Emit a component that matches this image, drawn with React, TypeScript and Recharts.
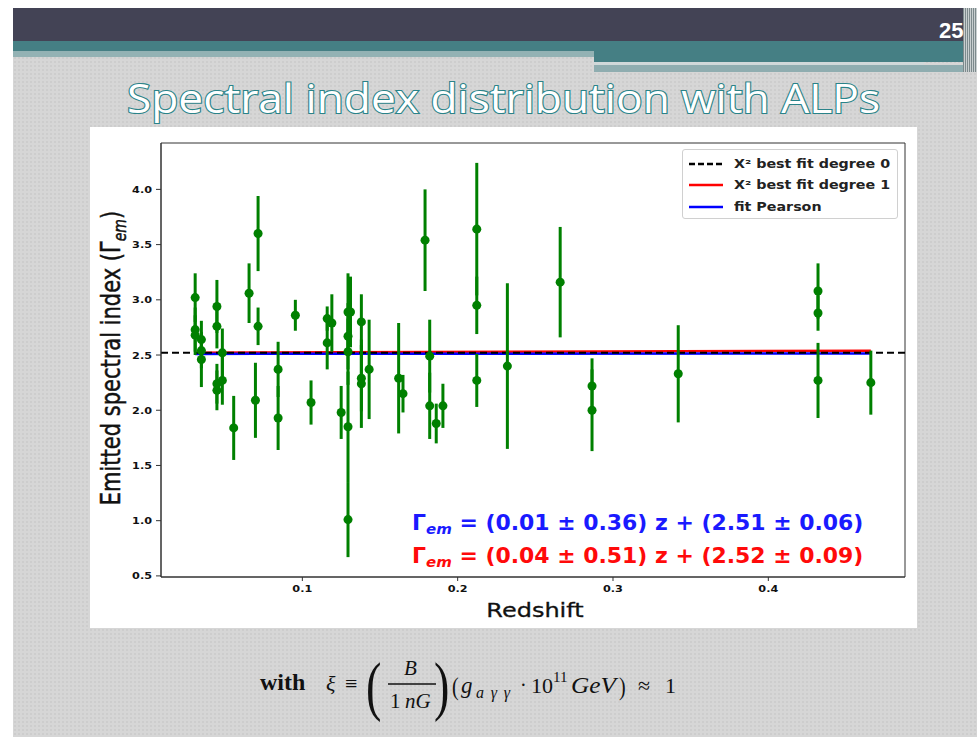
import React from "react";
import {
  ScatterChart,
  Scatter,
  XAxis,
  YAxis,
  ErrorBar,
  ReferenceLine,
  ReferenceArea,
} from "recharts";

// Per-source redshift, emitted spectral index and its 1-sigma error
const redshift = [
  0.031, 0.031, 0.031, 0.035, 0.035, 0.035, 0.045, 0.045, 0.045, 0.045,
  0.0485, 0.0485, 0.0558, 0.0657, 0.0715, 0.0715, 0.0698, 0.0844, 0.0844,
  0.0955, 0.1056, 0.116, 0.116, 0.119, 0.125, 0.1294, 0.1294, 0.1294,
  0.1294, 0.1294, 0.131, 0.138, 0.138, 0.138, 0.143, 0.162, 0.1648, 0.179,
  0.182, 0.182, 0.1862, 0.1905, 0.2123, 0.2123, 0.2123, 0.232, 0.266,
  0.2865, 0.2865, 0.342, 0.432, 0.432, 0.432, 0.466,
];
const gammaEm = [
  3.02, 2.73, 2.68, 2.64, 2.54, 2.46, 2.94, 2.76, 2.24, 2.18, 2.52, 2.27,
  1.84, 3.06, 3.6, 2.76, 2.09, 2.37, 1.93, 2.86, 2.07, 2.83, 2.61, 2.79,
  1.98, 2.89, 2.67, 2.53, 1.85, 1.01, 2.89, 2.8, 2.29, 2.24, 2.37, 2.29,
  2.15, 3.54, 2.49, 2.04, 1.88, 2.04, 3.64, 2.95, 2.27, 2.4, 3.16, 2.22,
  2.0, 2.33, 3.08, 2.88, 2.27, 2.25,
];
const gammaErr = [
  0.22, 0.2, 0.18, 0.17, 0.16, 0.25, 0.24, 0.2, 0.18, 0.18, 0.22, 0.22,
  0.29, 0.27, 0.34, 0.17, 0.34, 0.25, 0.29, 0.14, 0.2, 0.11, 0.24, 0.26,
  0.24, 0.35, 0.3, 0.3, 0.5, 0.34, 0.32, 0.25, 0.3, 0.4, 0.45, 0.5, 0.17,
  0.46, 0.33, 0.3, 0.18, 0.2, 0.6, 0.26, 0.24, 0.75, 0.5, 0.25, 0.37,
  0.44, 0.25, 0.16, 0.34, 0.29,
];

const xTicks = [0.1, 0.2, 0.3, 0.4];
const yTicks = [0.5, 1.0, 1.5, 2.0, 2.5, 3.0, 3.5, 4.0];
const xDomain = [0.009, 0.488];
const yDomain = [0.49, 4.42];

// Fit results: constant chi2 fit, linear chi2 fit, Pearson linear fit
const chi2Degree0 = 2.52;
const chi2Degree1 = { slope: 0.04, intercept: 2.52 };
const pearsonFit = { slope: 0.01, intercept: 2.51 };

const points = redshift.map((z, i) => ({
  z,
  gamma: gammaEm[i],
  err: gammaErr[i],
}));

const zMin = Math.min(...redshift);
const zMax = Math.max(...redshift);
const fitSegment = (f: { slope: number; intercept: number }) => [
  { x: zMin, y: f.slope * zMin + f.intercept },
  { x: zMax, y: f.slope * zMax + f.intercept },
];

const GREEN = "#008000";
const mpl = "'DejaVu Sans', sans-serif";
const serif = "'Liberation Serif', 'DejaVu Serif', serif";

// matplotlib-style tick label, slightly widened
function Tick(props: any) {
  const { x, y, payload, textAnchor, orientation } = props;
  const dy = orientation === "bottom" ? 9 : 3.5;
  const dx = orientation === "left" ? -2 : 0;
  const tx = x + dx;
  return (
    <text
      x={tx}
      y={y + dy}
      textAnchor={textAnchor}
      fontSize={9}
      fontWeight={700}
      fill="#111"
      fontFamily={mpl}
      transform={`translate(${tx} 0) scale(1.25 1) translate(${-tx} 0)`}
    >
      {payload.value.toFixed(1)}
    </text>
  );
}

function Equation({ color, top, text }: { color: string; top: number; text: string }) {
  return (
    <div
      style={{
        position: "absolute",
        left: 412,
        top,
        color,
        fontFamily: mpl,
        fontWeight: 700,
        fontSize: 20.5,
        whiteSpace: "nowrap",
        lineHeight: "24px",
        transform: "scale(1.07, 1)",
        transformOrigin: "0 0",
      }}
    >
      Γ<sub style={{ fontSize: 14, fontStyle: "italic", verticalAlign: -4 }}>em</sub> {text}
    </div>
  );
}

function LegendRow({ top, color, dashed, label }: { top: number; color: string; dashed?: boolean; label: string }) {
  return (
    <div style={{ position: "absolute", left: 6, top, display: "flex", alignItems: "center" }}>
      <svg width={36} height={6}>
        <line
          x1={0}
          y1={3}
          x2={34}
          y2={3}
          stroke={color}
          strokeWidth={2.5}
          strokeDasharray={dashed ? "6 3" : undefined}
        />
      </svg>
      <span
        style={{
          marginLeft: 9,
          fontSize: 11.5,
          fontWeight: 700,
          color: "#222",
          fontFamily: mpl,
          display: "inline-block",
          transform: "scale(1.24, 1)",
          transformOrigin: "0 50%",
          whiteSpace: "nowrap",
        }}
      >
        {label}
      </span>
    </div>
  );
}

export default function App() {
  return (
    <div
      style={{
        position: "absolute",
        left: 0,
        top: 0,
        width: 977,
        height: 737,
        overflow: "hidden",
        background: "#fff",
      }}
    >
      {/* slide background */}
      <div
        style={{
          position: "absolute",
          left: 13,
          top: 8,
          width: 964,
          height: 729,
          background: "#d6d6d6",
          backgroundImage: "radial-gradient(circle, rgba(0,0,0,0.045) 0.9px, transparent 1.1px)",
          backgroundSize: "4px 4px",
        }}
      />
      {/* header bands */}
      <div style={{ position: "absolute", left: 13, top: 8, width: 964, height: 33, background: "#434355" }} />
      <div style={{ position: "absolute", left: 13, top: 41, width: 581, height: 10, background: "#457f84" }} />
      <div style={{ position: "absolute", left: 13, top: 51, width: 581, height: 6, background: "#93b2b4" }} />
      <div style={{ position: "absolute", left: 594, top: 41, width: 383, height: 21, background: "#457f84" }} />
      <div style={{ position: "absolute", left: 594, top: 62, width: 330, height: 3, background: "#d0d8d9" }} />
      <div style={{ position: "absolute", left: 594, top: 65, width: 383, height: 7, background: "#8fadb0" }} />
      <div
        style={{
          position: "absolute",
          left: 963,
          top: 8,
          width: 14,
          height: 64,
          backgroundImage: "repeating-linear-gradient(90deg, #7d8a8c 0 1px, #c9cfd0 1px 2px)",
        }}
      />
      <div
        style={{
          position: "absolute",
          left: 939,
          top: 18,
          fontFamily: "'Liberation Sans', Arial, sans-serif",
          fontWeight: 700,
          fontSize: 22,
          color: "#fff",
        }}
      >
        25
      </div>

      {/* slide title, outlined lettering */}
      <svg style={{ position: "absolute", left: 0, top: 0 }} width={977} height={130}>
        <text
          x={127}
          y={113}
          textLength={753}
          lengthAdjust="spacingAndGlyphs"
          fontFamily="'Open Sans', sans-serif"
          fontSize={41}
          fill="#ffffff"
          stroke="#2a8389"
          strokeWidth={2.2}
          paintOrder="stroke"
        >
          Spectral index distribution with ALPs
        </text>
      </svg>

      {/* figure panel */}
      <div style={{ position: "absolute", left: 90, top: 127, width: 827, height: 501, background: "#fff" }}>
        <ScatterChart width={827} height={501} margin={{ top: 16, right: 12, bottom: 0, left: 0 }}>
          <XAxis
            type="number"
            dataKey="z"
            domain={xDomain}
            ticks={xTicks}
            height={51}
            tick={<Tick orientation="bottom" />}
            tickSize={4}
            tickLine={{ stroke: "#333" }}
            axisLine={{ stroke: "#333" }}
            allowDataOverflow
          />
          <YAxis
            type="number"
            dataKey="gamma"
            domain={yDomain}
            ticks={yTicks}
            width={71}
            tick={<Tick orientation="left" />}
            tickSize={5}
            tickLine={{ stroke: "#333" }}
            axisLine={{ stroke: "#333" }}
            allowDataOverflow
          />
          <ReferenceArea
            x1={xDomain[0]}
            x2={xDomain[1]}
            y1={yDomain[0]}
            y2={yDomain[1]}
            fill="none"
            stroke="#333"
            strokeWidth={1}
          />
          <ReferenceLine segment={fitSegment(chi2Degree1)} stroke="#ff0000" strokeWidth={2.5} />
          <ReferenceLine segment={fitSegment(pearsonFit)} stroke="#0000ff" strokeWidth={2.5} />
          <ReferenceLine y={chi2Degree0} stroke="#000" strokeWidth={2} strokeDasharray="7 4" />
          <Scatter data={points} fill={GREEN} isAnimationActive={false}>
            <ErrorBar dataKey="err" direction="y" width={0} stroke={GREEN} strokeWidth={3} />
          </Scatter>
        </ScatterChart>
      </div>

      {/* axis titles */}
      <div
        style={{
          position: "absolute",
          left: 113,
          top: 358,
          transform: "translate(-50%, -50%) rotate(-90deg) scale(1, 1.25)",
          fontFamily: mpl,
          fontSize: 21,
          color: "#111",
          whiteSpace: "nowrap",
          WebkitTextStroke: "0.4px #111",
        }}
      >
        Emitted spectral index (Γ<sub style={{ fontSize: 14, fontStyle: "italic" }}>em</sub>)
      </div>
      <div
        style={{
          position: "absolute",
          left: 535,
          top: 610,
          transform: "translate(-50%, -50%) scale(1.2, 1)",
          fontFamily: mpl,
          fontSize: 20,
          color: "#111",
          WebkitTextStroke: "0.3px #111",
        }}
      >
        Redshift
      </div>

      {/* legend */}
      <div
        style={{
          position: "absolute",
          left: 682,
          top: 149,
          width: 214,
          height: 68,
          background: "#fff",
          border: "1px solid #d0d0d0",
          borderRadius: 3,
        }}
      >
        <LegendRow top={7} color="#000" dashed label="X² best fit degree 0" />
        <LegendRow top={28} color="#ff0000" label="X² best fit degree 1" />
        <LegendRow top={50} color="#0000ff" label="fit Pearson" />
      </div>

      {/* fit equations */}
      <Equation color="#1a1aff" top={511} text="= (0.01 ± 0.36) z + (2.51 ± 0.06)" />
      <Equation color="#ff0a0a" top={544} text="= (0.04 ± 0.51) z + (2.52 ± 0.09)" />

      {/* coupling definition */}
      <svg style={{ position: "absolute", left: 0, top: 640 }} width={977} height={97}>
        <g fontFamily={serif} fill="#111">
          <text x={260} y={50} fontSize={24} fontWeight={700}>with</text>
          <text x={326} y={51} fontSize={22} fontStyle="italic">ξ</text>
          <text x={345} y={51} fontSize={22}>≡</text>
          <text x={366} y={68} fontSize={66} transform="translate(366 0) scale(0.7 1) translate(-366 0)">(</text>
          <text x={404} y={35} fontSize={21} fontStyle="italic">B</text>
          <line x1={388} y1={44} x2={436} y2={44} stroke="#111" strokeWidth={1.3} />
          <text x={390} y={68} fontSize={21}>1</text>
          <text x={405} y={68} fontSize={21} fontStyle="italic">nG</text>
          <text x={434} y={68} fontSize={66} transform="translate(434 0) scale(0.7 1) translate(-434 0)">)</text>
          <text x={452} y={55} fontSize={25} transform="translate(452 0) scale(0.8 1) translate(-452 0)">(</text>
          <text x={461} y={53} fontSize={23} fontStyle="italic">g</text>
          <text x={476} y={58} fontSize={16} fontStyle="italic" textLength={34} lengthAdjust="spacing">aγγ</text>
          <text x={520} y={52} fontSize={20}>·</text>
          <text x={531} y={53} fontSize={22}>10</text>
          <text x={553} y={42} fontSize={15}>11</text>
          <text x={571} y={53} fontSize={23} fontStyle="italic" textLength={45} lengthAdjust="spacingAndGlyphs">GeV</text>
          <text x={619} y={55} fontSize={25} transform="translate(619 0) scale(0.8 1) translate(-619 0)">)</text>
          <text x={638} y={53} fontSize={22}>≈</text>
          <text x={665} y={53} fontSize={22}>1</text>
        </g>
      </svg>
    </div>
  );
}
